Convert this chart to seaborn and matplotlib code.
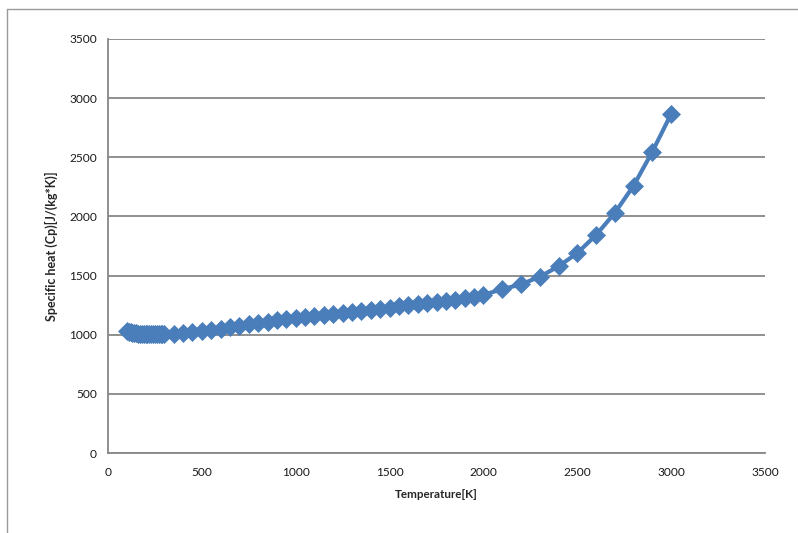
import matplotlib
matplotlib.use("Agg")
import matplotlib.pyplot as plt
from matplotlib.lines import Line2D
import seaborn as sns
import pandas as pd

# Specific heat of air versus temperature
temperature_low = [100, 110, 120, 130, 140, 150, 160, 170, 180, 190,
                   200, 210, 220, 230, 240, 250, 260, 270, 280, 290]
cp_low = [1032, 1026, 1021, 1017, 1014, 1012, 1010, 1009, 1008, 1007,
          1007, 1006, 1006, 1006, 1006, 1006, 1006, 1007, 1007, 1007]

temperature_mid = [300, 350, 400, 450, 500, 550, 600, 650, 700, 750,
                   800, 850, 900, 950, 1000, 1050, 1100, 1150, 1200, 1250,
                   1300, 1350, 1400, 1450, 1500, 1550, 1600, 1650, 1700, 1750,
                   1800, 1850, 1900, 1950, 2000]
cp_mid = [1007, 1009, 1014, 1021, 1030, 1040, 1051, 1063, 1075, 1087,
          1099, 1110, 1121, 1131, 1141, 1150, 1159, 1167, 1175, 1182,
          1189, 1197, 1207, 1218, 1230, 1239, 1248, 1258, 1267, 1276,
          1286, 1296, 1307, 1320, 1337]

temperature_high = [2100, 2200, 2300, 2400, 2500, 2600, 2700, 2800, 2900, 3000]
cp_high = [1385, 1425, 1490, 1578, 1690, 1843, 2030, 2260, 2548, 2866]

x_ticks = [0, 500, 1000, 1500, 2000, 2500, 3000, 3500]
y_ticks = [0, 500, 1000, 1500, 2000, 2500, 3000, 3500]

df = pd.DataFrame({
    "Temperature": temperature_low + temperature_mid + temperature_high,
    "Cp": cp_low + cp_mid + cp_high,
})

sns.set_style("white")
plt.rcParams["font.family"] = ["Lato", "DejaVu Sans"]

grey = "#878787"
blue = "#4A7EBB"

fig = plt.figure(figsize=(7.98, 5.33), dpi=100)
ax = fig.add_axes([108 / 798, 1 - 453 / 533, (765 - 108) / 798, (453 - 39) / 533])

sns.lineplot(data=df, x="Temperature", y="Cp", ax=ax, color=blue,
             linewidth=3.0, marker="D", markersize=9.5,
             markeredgecolor=blue, markeredgewidth=0.5, sort=False)

ax.set_xlim(0, 3500)
ax.set_ylim(0, 3500)
ax.set_xticks(x_ticks)
ax.set_yticks(y_ticks)
ax.set_xticklabels([str(v) for v in x_ticks])
ax.set_yticklabels([str(v) for v in y_ticks])

ax.yaxis.grid(True, color=grey, linewidth=1.3)
ax.xaxis.grid(False)
ax.set_axisbelow(True)

for side in ("top", "right"):
    ax.spines[side].set_visible(False)
for side in ("left", "bottom"):
    ax.spines[side].set_color(grey)
    ax.spines[side].set_linewidth(1.3)

ax.tick_params(axis="both", which="major", direction="out", length=4,
               width=1.3, color=grey, labelsize=8.6, labelcolor="#1a1a1a", pad=4)
ax.tick_params(axis="x", pad=6)

ax.set_xlabel("Temperature[K]", fontsize=8.4, fontweight="bold", labelpad=8)
ax.set_ylabel("Specific heat (Cp)[J/(kg*K)]", fontsize=9, fontweight="bold",
              labelpad=8)

# Outer chart frame (continues past the right and bottom edges)
fig.add_artist(Line2D([7 / 798, 7 / 798], [0, 1 - 9 / 533],
                      transform=fig.transFigure, color="#9a9a9a", linewidth=1.0))
fig.add_artist(Line2D([7 / 798, 1], [1 - 9 / 533, 1 - 9 / 533],
                      transform=fig.transFigure, color="#9a9a9a", linewidth=1.0))

fig.savefig("out.png", dpi=100)
